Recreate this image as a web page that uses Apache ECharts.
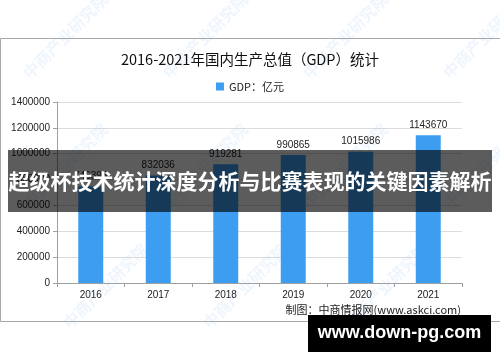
<!DOCTYPE html>
<html><head><meta charset="utf-8">
<script src="https://cdn.jsdelivr.net/npm/echarts@6/dist/echarts.min.js"></script>
<style>html,body{margin:0;padding:0;background:#fff}#c{width:500px;height:362px}</style>
</head><body><div id="c"></div>
<script>
const categories = ['2016','2017','2018','2019','2020','2021'];
const gdpValues = [746395, 832036, 919281, 990865, 1015986, 1143670];
const yTicks = [0,200000,400000,600000,800000,1000000,1200000,1400000];
const titleText = '2016-2021年国内生产总值（GDP）统计';
const legendText = 'GDP：亿元';
const sourceText = '制图：中商情报网(www.askci.com)';
const bannerText = '超级杯技术统计深度分析与比赛表现的关键因素解析';
const stampText = 'www.down-pg.com';
const wmText = '中商产业研究院';

const chart = echarts.init(document.getElementById('c'));
const wmPos = [[20,70],[160,70],[300,70],[440,70],[20,200],[160,200],[300,200],[440,200],[60,320],[200,320],[340,320]];
const wm = wmPos.map(p => ({
  type:'text', x:p[0], y:p[1], rotation:Math.PI/4, z:1, silent:true,
  style:{text:wmText, fill:'rgba(120,180,230,0.13)', font:'bold 16px "Noto Sans CJK SC"'}
}));
chart.setOption({
  animation:false,
  title:{text:titleText,left:'center',top:47,textStyle:{fontSize:14.5,fontWeight:'normal',color:'#111',fontFamily:'"Noto Sans CJK SC"'}},
  legend:{data:[{name:legendText,icon:'rect'}],left:'center',top:76,itemWidth:8,itemHeight:8,itemGap:2,
    textStyle:{fontSize:11,color:'#222',fontFamily:'"Noto Sans CJK SC"'}},
  grid:{left:57,right:38,top:102,bottom:79,containLabel:false},
  xAxis:{type:'category',data:categories,
    axisLine:{lineStyle:{color:'#a0a0a0'}},
    axisTick:{show:true,length:4,lineStyle:{color:'#a0a0a0'}},
    axisLabel:{fontSize:10,color:'#222',margin:7,fontFamily:'"Liberation Sans"'}},
  yAxis:{type:'value',min:0,max:1400000,interval:200000,
    axisLine:{show:true,lineStyle:{color:'#a0a0a0'}},
    axisTick:{show:true,length:4,lineStyle:{color:'#a0a0a0'}},
    splitLine:{lineStyle:{color:'#dcdcdc'}},
    axisLabel:{fontSize:10,color:'#222',margin:7,fontFamily:'"Liberation Sans"',
      formatter:v=>yTicks.includes(v)?String(v):''}},
  series:[{name:legendText,type:'bar',data:gdpValues,barWidth:'37%',
    itemStyle:{color:'#3d9df0'},
    label:{show:true,position:'top',fontSize:10,color:'#222',distance:5,fontFamily:'"Liberation Sans"'}}],
  graphic:[
    {type:'rect',shape:{x:0.5,y:38.5,width:520,height:283},z:0,silent:true,style:{fill:'none',stroke:'#a8a8a8',lineWidth:1}},
    ...wm,
    {type:'text',right:39,top:304,z:50,style:{text:sourceText,fill:'#222',font:'11px "Noto Sans CJK SC"'}},
    {type:'rect',shape:{x:8,y:150,width:484,height:62},z:100,style:{fill:'rgba(0,0,0,0.64)'}},
    {type:'text',x:250,y:181,z:101,style:{text:bannerText,fill:'#fff',font:'bold 21px "Noto Sans CJK SC"',align:'center',verticalAlign:'middle'}},
    {type:'rect',shape:{x:308,y:315,width:183,height:37},z:100,style:{fill:'#000'}},
    {type:'text',x:399.5,y:333.5,z:101,style:{text:stampText,fill:'#fff',font:'bold 18px "Liberation Sans"',align:'center',verticalAlign:'middle'}}
  ]
});
</script></body></html>
